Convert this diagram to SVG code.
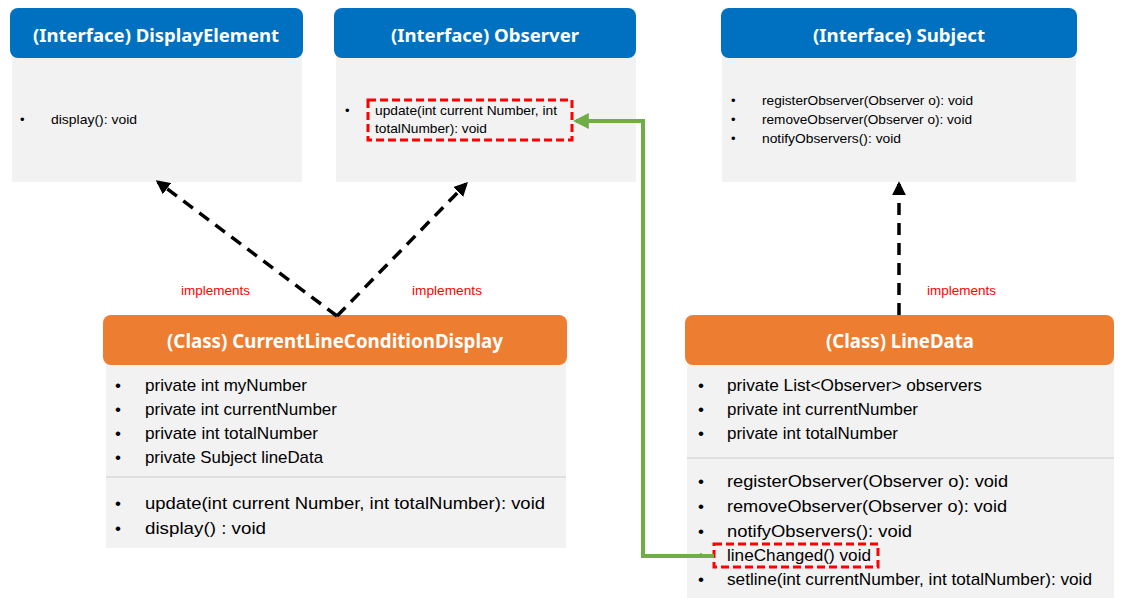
<svg xmlns="http://www.w3.org/2000/svg" width="1122" height="598" viewBox="0 0 1122 598">
  <defs>
    <style>
      .hdr-if { fill: #0070c0; }
      .hdr-cls { fill: #ed7d31; }
      .body { fill: #f2f2f2; }
      .title { font-family: "Noto Sans", "Liberation Sans", sans-serif; font-weight: bold; fill: #ffffff; text-anchor: middle; }
      .t13 { font-family: "Liberation Sans", Arial, sans-serif; font-size: 13px; fill: #000000; }
      .t16 { font-family: "Liberation Sans", Arial, sans-serif; font-size: 17px; fill: #000000; }
      .impl { font-family: "Liberation Sans", Arial, sans-serif; font-size: 13px; fill: #ff0000; }
      .divider { stroke: #d9d9d9; stroke-width: 1.5; }
      .hl { fill: none; stroke: #ff0000; stroke-width: 3; stroke-dasharray: 8 4; }
      .dep { fill: none; stroke: #000000; stroke-width: 3.5; stroke-dasharray: 12 8; }
      .assoc { fill: none; stroke: #70ad47; stroke-width: 4; }
    </style>
    <marker id="arrowBlack" viewBox="0 0 10 10" refX="8" refY="5" markerWidth="4" markerHeight="4" orient="auto" markerUnits="strokeWidth">
      <path d="M0,0 L10,5 L0,10 z" fill="#000000"/>
    </marker>
    <marker id="arrowGreen" viewBox="0 0 10 10" refX="8" refY="5" markerWidth="4" markerHeight="4" orient="auto" markerUnits="strokeWidth">
      <path d="M0,0 L10,5 L0,10 z" fill="#70ad47"/>
    </marker>
  </defs>

  <rect width="1122" height="598" fill="#ffffff"/>

  <!-- Interface: DisplayElement -->
  <g id="display-element">
    <rect class="body" x="12" y="50" width="290" height="132"/>
    <rect class="hdr-if" x="10" y="8" width="293" height="50" rx="8"/>
    <text class="title" x="156" y="42" font-size="18" textLength="246" lengthAdjust="spacingAndGlyphs">(Interface)  DisplayElement</text>
    <text class="t13" x="20" y="124">•</text>
    <text class="t13" x="51" y="124" textLength="86" lengthAdjust="spacingAndGlyphs">display(): void</text>
  </g>

  <!-- Interface: Observer -->
  <g id="observer">
    <rect class="body" x="336" y="50" width="300" height="132"/>
    <rect class="hdr-if" x="334" y="8" width="302" height="50" rx="8"/>
    <text class="title" x="485" y="42" font-size="18" textLength="188" lengthAdjust="spacingAndGlyphs">(Interface)  Observer</text>
    <text class="t13" x="345" y="115">•</text>
    <text class="t13" x="375" y="115" textLength="182" lengthAdjust="spacingAndGlyphs">update(int current Number, int</text>
    <text class="t13" x="375" y="133" textLength="112" lengthAdjust="spacingAndGlyphs">totalNumber): void</text>
    <rect class="hl" x="368" y="100" width="204" height="40"/>
  </g>

  <!-- Interface: Subject -->
  <g id="subject">
    <rect class="body" x="722" y="50" width="354" height="132"/>
    <rect class="hdr-if" x="721" y="8" width="356" height="50" rx="8"/>
    <text class="title" x="899" y="42" font-size="18" textLength="172" lengthAdjust="spacingAndGlyphs">(Interface)  Subject</text>
    <text class="t13" x="731" y="105">•</text>
    <text class="t13" x="762" y="105" textLength="211" lengthAdjust="spacingAndGlyphs">registerObserver(Observer o): void</text>
    <text class="t13" x="731" y="124">•</text>
    <text class="t13" x="762" y="124" textLength="210" lengthAdjust="spacingAndGlyphs">removeObserver(Observer o): void</text>
    <text class="t13" x="731" y="143">•</text>
    <text class="t13" x="762" y="143" textLength="139" lengthAdjust="spacingAndGlyphs">notifyObservers(): void</text>
  </g>

  <!-- Class: CurrentLineConditionDisplay -->
  <g id="current-line-condition-display">
    <rect class="body" x="106" y="358" width="460" height="190"/>
    <rect class="hdr-cls" x="103" y="315" width="464" height="50" rx="8"/>
    <text class="title" x="335" y="348" font-size="19" textLength="336" lengthAdjust="spacingAndGlyphs">(Class)  CurrentLineConditionDisplay</text>
    <text class="t16" x="115" y="391">•</text>
    <text class="t16" x="145" y="391" textLength="162" lengthAdjust="spacingAndGlyphs">private int myNumber</text>
    <text class="t16" x="115" y="415">•</text>
    <text class="t16" x="145" y="415" textLength="192" lengthAdjust="spacingAndGlyphs">private int currentNumber</text>
    <text class="t16" x="115" y="439">•</text>
    <text class="t16" x="145" y="439" textLength="173" lengthAdjust="spacingAndGlyphs">private int totalNumber</text>
    <text class="t16" x="115" y="463">•</text>
    <text class="t16" x="145" y="463" textLength="178" lengthAdjust="spacingAndGlyphs">private Subject lineData</text>
    <line class="divider" x1="106" y1="477" x2="566" y2="477"/>
    <text class="t16" x="115" y="509">•</text>
    <text class="t16" x="145" y="509" textLength="400" lengthAdjust="spacingAndGlyphs">update(int current Number, int totalNumber): void</text>
    <text class="t16" x="115" y="534">•</text>
    <text class="t16" x="145" y="534" textLength="121" lengthAdjust="spacingAndGlyphs">display() : void</text>
  </g>

  <!-- Class: LineData -->
  <g id="line-data">
    <rect class="body" x="687" y="358" width="427" height="240"/>
    <rect class="hdr-cls" x="685" y="315" width="429" height="50" rx="8"/>
    <text class="title" x="900" y="348" font-size="19" textLength="148" lengthAdjust="spacingAndGlyphs">(Class)  LineData</text>
    <text class="t16" x="698" y="391">•</text>
    <text class="t16" x="727" y="391" textLength="255" lengthAdjust="spacingAndGlyphs">private List&lt;Observer&gt; observers</text>
    <text class="t16" x="698" y="415">•</text>
    <text class="t16" x="727" y="415" textLength="191" lengthAdjust="spacingAndGlyphs">private int currentNumber</text>
    <text class="t16" x="698" y="439">•</text>
    <text class="t16" x="727" y="439" textLength="171" lengthAdjust="spacingAndGlyphs">private int totalNumber</text>
    <line class="divider" x1="687" y1="458" x2="1114" y2="458"/>
    <text class="t16" x="698" y="487">•</text>
    <text class="t16" x="727" y="487" textLength="281" lengthAdjust="spacingAndGlyphs">registerObserver(Observer o): void</text>
    <text class="t16" x="698" y="512">•</text>
    <text class="t16" x="727" y="512" textLength="280" lengthAdjust="spacingAndGlyphs">removeObserver(Observer o): void</text>
    <text class="t16" x="698" y="537">•</text>
    <text class="t16" x="727" y="537" textLength="185" lengthAdjust="spacingAndGlyphs">notifyObservers(): void</text>
    <text class="t16" x="698" y="561">•</text>
    <text class="t16" x="727" y="561" textLength="144" lengthAdjust="spacingAndGlyphs">lineChanged() void</text>
    <text class="t16" x="698" y="585">•</text>
    <text class="t16" x="727" y="585" textLength="365" lengthAdjust="spacingAndGlyphs">setline(int currentNumber, int totalNumber): void</text>
    <rect class="hl" x="714" y="544" width="164" height="23"/>
  </g>

  <!-- Connectors -->
  <g id="connectors">
    <line class="dep" x1="337" y1="316" x2="158" y2="182" marker-end="url(#arrowBlack)"/>
    <line class="dep" x1="337" y1="316" x2="466" y2="184" marker-end="url(#arrowBlack)"/>
    <line class="dep" x1="899" y1="315" x2="899" y2="184" marker-end="url(#arrowBlack)"/>
    <polyline class="assoc" points="714,556 643,556 643,121 576,121" marker-end="url(#arrowGreen)"/>
    <text class="impl" x="181" y="295" textLength="69" lengthAdjust="spacingAndGlyphs">implements</text>
    <text class="impl" x="412" y="295" textLength="70" lengthAdjust="spacingAndGlyphs">implements</text>
    <text class="impl" x="927" y="295" textLength="69" lengthAdjust="spacingAndGlyphs">implements</text>
  </g>
</svg>
